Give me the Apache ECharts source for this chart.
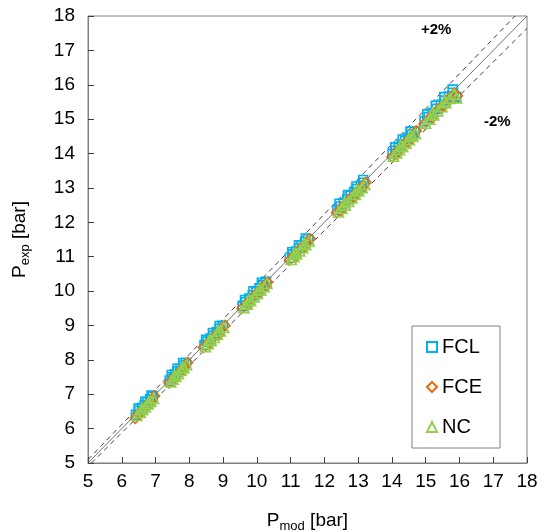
<!DOCTYPE html>
<html>
<head>
<meta charset="utf-8">
<script src="https://cdn.jsdelivr.net/npm/echarts@6/dist/echarts.min.js"></script>
<style>html,body{margin:0;padding:0;background:#fff;}#c{width:551px;height:532px;}</style>
</head>
<body>
<div id="c"></div>
<script>
var axisTicks = [5,6,7,8,9,10,11,12,13,14,15,16,17,18];
var fclData = [
 [6.42,6.40],[6.52,6.52],[6.60,6.60],[6.68,6.68],[6.76,6.77],[6.84,6.85],[6.92,6.93],[6.50,6.58],[6.70,6.78],[6.88,6.96],
 [7.42,7.40],[7.50,7.49],[7.58,7.58],[7.66,7.66],[7.74,7.74],[7.82,7.83],[7.90,7.91],[7.48,7.56],[7.65,7.74],[7.82,7.91],
 [8.45,8.43],[8.54,8.53],[8.63,8.62],[8.72,8.71],[8.81,8.80],[8.90,8.90],[8.99,8.99],[8.50,8.58],[8.70,8.78],[8.90,8.98],
 [9.58,9.57],[9.68,9.68],[9.78,9.78],[9.88,9.88],[9.98,9.98],[10.08,10.08],[10.18,10.18],[10.27,10.27],[9.65,9.74],[9.90,9.99],[10.15,10.24],
 [10.98,10.97],[11.07,11.06],[11.16,11.15],[11.25,11.24],[11.34,11.33],[11.43,11.42],[11.52,11.50],[11.05,11.13],[11.25,11.33],[11.45,11.53],
 [12.38,12.36],[12.48,12.46],[12.58,12.56],[12.68,12.67],[12.78,12.77],[12.88,12.87],[12.98,12.97],[13.08,13.06],[13.17,13.15],[12.45,12.54],[12.70,12.79],[12.95,13.04],[13.15,13.23],
 [14.02,13.99],[14.11,14.08],[14.20,14.17],[14.29,14.26],[14.39,14.36],[14.49,14.46],[14.59,14.55],[14.67,14.63],[14.10,14.18],[14.32,14.41],[14.55,14.64],
 [14.97,14.94],[15.09,15.06],[15.21,15.18],[15.33,15.30],[15.45,15.42],[15.57,15.54],[15.69,15.66],[15.81,15.77],[15.90,15.65],[15.05,15.14],[15.30,15.39],[15.55,15.64],[15.80,15.86]
];
var fceData = [
 [6.40,6.30],[6.50,6.44],[6.66,6.60],[6.74,6.69],[6.90,6.84],[6.97,6.95],[6.60,6.48],[6.82,6.70],
 [7.40,7.33],[7.55,7.50],[7.70,7.64],[7.86,7.81],[7.95,7.92],[7.58,7.45],[7.80,7.68],
 [8.42,8.36],[8.60,8.54],[8.78,8.72],[8.96,8.91],[9.06,9.00],[8.62,8.48],[8.88,8.74],
 [9.56,9.50],[9.75,9.70],[9.95,9.90],[10.15,10.10],[10.32,10.26],[9.75,9.60],[10.05,9.90],[10.28,10.14],
 [10.96,10.90],[11.13,11.07],[11.30,11.25],[11.48,11.42],[11.58,11.52],[11.15,11.00],[11.42,11.27],
 [12.36,12.28],[12.55,12.48],[12.75,12.68],[12.95,12.88],[13.15,13.08],[13.23,13.16],[12.50,12.34],[12.85,12.69],[13.10,12.95],
 [14.00,13.90],[14.18,14.10],[14.36,14.28],[14.55,14.47],[14.72,14.66],[14.15,13.98],[14.50,14.34],
 [14.95,14.86],[15.15,15.08],[15.40,15.32],[15.65,15.57],[15.85,15.76],[15.94,15.68],[15.20,15.04],[15.55,15.39]
];
var ncData = [
 [6.45,6.38],[6.55,6.47],[6.62,6.56],[6.70,6.63],[6.78,6.72],[6.86,6.80],[6.94,6.88],[6.58,6.56],[6.80,6.78],
 [7.45,7.36],[7.52,7.44],[7.60,7.52],[7.68,7.60],[7.76,7.69],[7.84,7.77],[7.92,7.86],[7.56,7.54],[7.80,7.78],
 [8.48,8.38],[8.56,8.47],[8.65,8.56],[8.74,8.65],[8.83,8.74],[8.92,8.84],[9.02,8.94],[8.60,8.58],[8.86,8.84],
 [9.62,9.52],[9.72,9.62],[9.82,9.72],[9.92,9.83],[10.02,9.93],[10.12,10.03],[10.22,10.13],[10.30,10.22],[9.76,9.74],[10.06,10.04],
 [11.02,10.92],[11.10,11.00],[11.18,11.08],[11.27,11.17],[11.36,11.26],[11.45,11.35],[11.55,11.45],[11.12,11.10],[11.40,11.38],
 [12.42,12.30],[12.52,12.40],[12.62,12.50],[12.72,12.61],[12.82,12.71],[12.92,12.81],[13.02,12.91],[13.12,13.01],[13.20,13.10],[12.60,12.58],[12.95,12.93],
 [14.05,13.92],[14.14,14.02],[14.23,14.11],[14.32,14.20],[14.42,14.30],[14.52,14.40],[14.62,14.50],[14.70,14.58],[14.25,14.23],[14.55,14.53],
 [15.00,14.88],[15.12,15.00],[15.24,15.12],[15.36,15.24],[15.48,15.36],[15.60,15.48],[15.72,15.60],[15.84,15.72],[15.92,15.62],[15.20,15.18],[15.55,15.53]
];
var lineEqual = [[5,5],[18,18]];
var linePlus2 = [[5,5.1],[17.647,18]];
var lineMinus2 = [[5.102,5],[18,17.64]];

var FONT = '"Liberation Sans", Arial, sans-serif';
var chart = echarts.init(document.getElementById('c'));
function axisCommon() {
  return {
    type: 'value', min: 5, max: 18, interval: 1,
    axisLine: { show: true, lineStyle: { color: '#808080', width: 1 } },
    axisTick: { show: true, inside: true, length: 6, lineStyle: { color: '#404040' } },
    splitLine: { show: false },
    axisLabel: { color: '#000', fontFamily: FONT, fontSize: 19 }
  };
}
var xa = axisCommon();
xa.axisLabel.margin = 9;
xa.name = '{p|P}{s|mod}{p| [bar]}';
xa.nameLocation = 'middle';
xa.nameGap = 46;
xa.nameTextStyle = { rich: {
  p: { fontFamily: FONT, fontSize: 19, color: '#000' },
  s: { fontFamily: FONT, fontSize: 13, color: '#000', padding: [11, 0, 0, 0] }
}};
var ya = axisCommon();
ya.axisLabel.margin = 13;
ya.name = '{p|P}{s|exp}{p| [bar]}';
ya.nameLocation = 'middle';
ya.nameGap = 56;
ya.nameTextStyle = { rich: {
  p: { fontFamily: FONT, fontSize: 19, color: '#000' },
  s: { fontFamily: FONT, fontSize: 13, color: '#000', padding: [11, 0, 0, 0] }
}};

function lineSeries(data, type) {
  return {
    type: 'line', data: data, symbol: 'none', silent: true, z: 1,
    lineStyle: { color: type === 'solid' ? '#707070' : '#404040', width: 1, type: type === 'solid' ? 'solid' : [5, 4] },
    clip: true
  };
}
function scatter(name, data, symbol, size, color) {
  return {
    name: name, type: 'scatter', data: data, symbol: symbol, symbolSize: size, z: 3,
    itemStyle: { color: 'rgba(255,255,255,0)', borderColor: color, borderWidth: 1.6, opacity: 1 }
  };
}
chart.setOption({
  animation: false,
  backgroundColor: '#fff',
  grid: { left: 88, right: 24, top: 16, bottom: 69, outerBoundsMode: 'none', containLabel: false, show: true, borderColor: '#808080', borderWidth: 1, backgroundColor: 'transparent' },
  xAxis: xa,
  yAxis: ya,
  legend: {
    data: ['FCL', 'FCE', 'NC'],
    orient: 'vertical', left: 412, top: 326,
    padding: [11, 18, 11, 14],
    itemGap: 20,
    itemWidth: 10, itemHeight: 10,
    borderColor: '#808080', borderWidth: 1,
    textStyle: { fontFamily: FONT, fontSize: 20, color: '#000' }
  },
  graphic: [
    { type: 'text', left: 421, top: 22, style: { text: '+2%', font: 'bold 15px ' + FONT, fill: '#000' } },
    { type: 'text', left: 484, top: 114, style: { text: '-2%', font: 'bold 15px ' + FONT, fill: '#000' } }
  ],
  series: [
    lineSeries(lineEqual, 'solid'),
    lineSeries(linePlus2, 'dashed'),
    lineSeries(lineMinus2, 'dashed'),
    scatter('FCL', fclData, 'rect', 9, '#00b0f0'),
    scatter('FCE', fceData, 'diamond', 10, '#e46c0a'),
    scatter('NC', ncData, 'triangle', 10, '#92d050')
  ]
});
</script>
</body>
</html>
